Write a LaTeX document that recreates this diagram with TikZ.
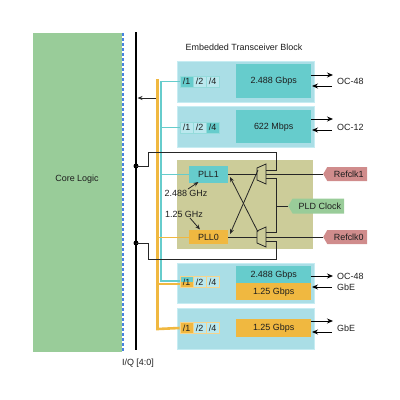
\documentclass[tikz,border=0pt]{standalone}
\usepackage{fontspec}
\setmainfont{Liberation Sans}
\usetikzlibrary{arrows.meta,shapes.symbols}
\definecolor{coreg}{RGB}{153,204,153}
\definecolor{lcyan}{RGB}{170,222,230}
\definecolor{lcyanb}{RGB}{198,236,242}
\definecolor{tealc}{RGB}{102,204,204}
\definecolor{orng}{RGB}{240,184,64}
\definecolor{olivec}{RGB}{204,204,153}
\definecolor{pinkc}{RGB}{208,140,140}
\definecolor{dashb}{RGB}{70,130,225}
\definecolor{cellc}{RGB}{186,232,238}
\definecolor{txt}{RGB}{30,30,30}
\tikzset{
  lbl/.style={font=\fontsize{9}{10}\selectfont, text=txt, inner sep=0pt},
  blk/.style={fill=lcyan, draw=lcyanb, line width=1.2bp, anchor=north west, inner sep=0pt},
  bigbox/.style={lbl, anchor=north west, minimum width=75bp},
  cell/.style={lbl, minimum width=13bp, minimum height=11bp, inner sep=0pt, fill=cellc, draw=tealc!70, line width=0.6bp},
  cello/.style={cell, draw=orng!60},
  wire/.style={draw=black!85, line width=0.8bp},
  arr/.style={wire, -{Stealth[length=5bp,width=4bp]}},
  bigarr/.style={draw=black, line width=0.9bp, -{Stealth[length=6bp,width=5bp]}},
  clk/.style={lbl, signal, signal to=west, signal pointer angle=120, anchor=west, inner sep=0pt, inner xsep=3bp},
  pll/.style={lbl, minimum width=39bp, inner sep=0pt},
  dot/.style={circle, fill=black, inner sep=0pt, minimum size=5bp},
}
\begin{document}
\begin{tikzpicture}[x=1bp,y=-1bp]
\useasboundingbox (0,0) rectangle (400,400);
% core logic
\node[fill=coreg, anchor=north west, minimum width=89bp, minimum height=319bp, inner sep=0pt] (core) at (33,33) {};
\node[lbl] (corelbl) at (77,179) {Core Logic};
\coordinate (dashT) at (123,33);
\coordinate (dashB) at (123,352);
\draw[draw=dashb, line width=1.4bp, dash pattern=on 3bp off 2bp] (dashT) -- (dashB);
% bus
\coordinate (busT) at (136,32);
\coordinate (busB) at (136,350);
\draw[line width=2.6bp] (busT) -- (busB);
\node[lbl] (iq) at (138,363) {I/Q [4:0]};
% title
\node[lbl] (title) at (244,47) {Embedded Transceiver Block};
% transceiver blocks
\node[blk, minimum width=137bp, minimum height=41bp] (blk1) at (177,61) {};
\node[blk, minimum width=137bp, minimum height=41bp] (blk2) at (177,106) {};
\node[blk, minimum width=137bp, minimum height=40bp] (blk3) at (177,263) {};
\node[blk, minimum width=137bp, minimum height=41bp] (blk4) at (177,308) {};
% PLL area
\node[fill=olivec, anchor=north west, minimum width=136bp, minimum height=89bp, inner sep=0pt] (pllarea) at (177,160) {};
% rate boxes
\node[bigbox, fill=tealc, minimum height=34bp] (r1) at (236,64) {2.488 Gbps};
\node[bigbox, fill=tealc, minimum height=33bp] (r2) at (236,110) {622 Mbps};
\node[bigbox, fill=tealc, minimum height=17bp] (r3a) at (236,266) {2.488 Gbps};
\node[bigbox, fill=orng, minimum height=17bp] (r3b) at (236,283) {1.25 Gbps};
\node[bigbox, fill=orng, minimum height=18bp] (r4) at (236,319) {1.25 Gbps};
% divider cells
\node[cell, fill=tealc] (c11) at (186.5,81.5) {/1};
\node[cell] (c12) at (199.5,81.5) {/2};
\node[cell] (c14) at (212.5,81.5) {/4};
\node[cell] (c21) at (186.5,127.5) {/1};
\node[cell] (c22) at (199.5,127.5) {/2};
\node[cell, fill=tealc] (c24) at (212.5,127.5) {/4};
\node[cello, fill=orng, path picture={\fill[tealc] (path picture bounding box.north west) rectangle (path picture bounding box.east);}] (c31) at (186.5,282) {/1};
\node[cello] (c32) at (199.5,282) {/2};
\node[cello] (c34) at (212.5,282) {/4};
\node[cello, fill=orng] (c41) at (186.5,328) {/1};
\node[cello] (c42) at (199.5,328) {/2};
\node[cello] (c44) at (212.5,328) {/4};
% PLLs
\node[pll, fill=tealc, minimum height=17bp] (pll1) at (208.5,174) {PLL1};
\node[pll, fill=orng, minimum height=14bp] (pll0) at (208.5,237) {PLL0};
% clock sources
\node[clk, fill=pinkc, minimum width=44bp, minimum height=14bp] (ref1) at (323,174) {\hspace{3bp}Refclk1};
\node[clk, fill=pinkc, minimum width=44bp, minimum height=14bp] (ref0) at (323,237) {\hspace{3bp}Refclk0};
\node[clk, fill=coreg, minimum width=56bp, minimum height=15bp] (pld) at (288,206) {\hspace{3bp}PLD Clock};
% cyan / orange distribution
\draw[orng, line width=2.6bp] (157.5,79) -- (157.5,329) -- (c41.west);
\draw[orng, line width=2.2bp] (157.5,284) -- (c31.west |- 0,284);
\draw[tealc, line width=1.8bp] (c11.west) -- (161,81.5) -- (161,281) -- (c31.west |- 0,281);
\draw[tealc, line width=1.8bp] (161,127.5) -- (c21.west);
\draw[tealc, line width=0.8bp] (161,174) -- (pll1.west);
\draw[orng, line width=0.8bp] (157.5,237) -- (pll0.west);
% arrow into bus
\coordinate (busarrS) at (156,98);
\coordinate (busarrE) at (137.5,98);
\draw[arr, line width=0.9bp] (busarrS) -- (busarrE);
% muxes
\draw[wire] (257,168) -- (266,164) -- (266,184) -- (257,180) -- cycle;
\draw[wire] (257,231) -- (266,227) -- (266,247) -- (257,243) -- cycle;
\coordinate (m1o1) at (258,170);
\coordinate (m1o2) at (257,174);
\coordinate (m1i1) at (266,170);
\coordinate (m1i2) at (266,174);
\coordinate (m1i3) at (266,178);
\coordinate (m2o1) at (258,232);
\coordinate (m2o2) at (257,237);
\coordinate (m2i1) at (266,232);
\coordinate (m2i2) at (266,237);
\coordinate (m2i3) at (266,241);
\coordinate (pll1in) at (230,177);
\coordinate (pll0in) at (230,234);
% bus taps
\node[dot] (tap1) at (136,166) {};
\node[dot] (tap0) at (136,243) {};
\draw[wire] (tap1.center) -- (148,166) -- (148,152) -- (276,152) -- (276,170) -- (m1i1);
\draw[wire] (tap0.center) -- (148,243) -- (148,259) -- (276,259) -- (276,241) -- (m2i3);
% clock wiring
\draw[wire] (pld.west) -- (276,206);
\draw[wire] (m1i3) -- (276,178) -- (276,232) -- (m2i1);
\draw[wire] (ref1.west) -- (m1i2);
\draw[wire] (ref0.west) -- (m2i2);
\draw[wire] (m1o2) -- (pll1.east);
\draw[wire] (m2o2) -- (pll0.east);
\draw[arr] (m1o1) -- (pll0in);
\draw[arr] (m2o1) -- (pll1in);
% frequency labels
\node[lbl] (f1) at (186,193) {2.488 GHz};
\node[lbl] (f0) at (184,214) {1.25 GHz};
\draw[arr] (188,189) -- (198.5,182);
\draw[arr] (190,218) -- (200,229.5);
% line interfaces
\draw[bigarr] (311,75) -- (333,75);
\draw[bigarr] (332,86) -- (312,86);
\node[lbl, anchor=west] (oc48a) at (337,81) {OC-48};
\draw[bigarr] (311,119) -- (333,119);
\draw[bigarr] (332,130) -- (312,130);
\node[lbl, anchor=west] (oc12) at (337,127) {OC-12};
\draw[bigarr] (311,276) -- (333,276);
\draw[bigarr] (332,287) -- (312,287);
\node[lbl, anchor=west] (oc48b) at (337,276) {OC-48};
\node[lbl, anchor=west] (gbe1) at (337,287.5) {GbE};
\draw[bigarr] (311,321) -- (333,321);
\draw[bigarr] (332,332) -- (312,332);
\node[lbl, anchor=west] (gbe2) at (337,328) {GbE};
\end{tikzpicture}
\end{document}
